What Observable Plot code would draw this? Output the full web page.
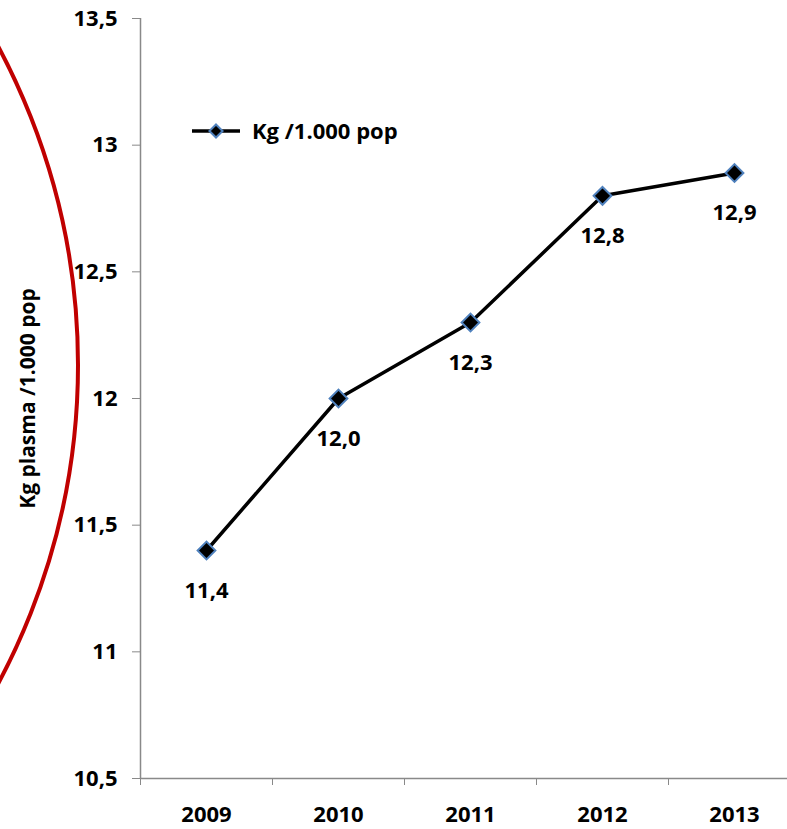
<!DOCTYPE html>
<html>
<head>
<meta charset="utf-8">
<script src="https://cdn.jsdelivr.net/npm/d3@7"></script>
<script src="https://cdn.jsdelivr.net/npm/@observablehq/plot@0.6"></script>
<style>
  html, body { margin: 0; padding: 0; background: white; }
  #wrap { position: relative; width: 787px; height: 829px; overflow: hidden; }
  #legend { position: absolute; left: 185px; top: 111px; overflow: visible; }
</style>
</head>
<body>
<div id="wrap"></div>
<script>
const years = [2009, 2010, 2011, 2012, 2013];
const values = [11.4, 12.0, 12.3, 12.8, 12.89];
const valueLabels = ["11,4", "12,0", "12,3", "12,8", "12,9"];
const yTicks = [10.5, 11, 11.5, 12, 12.5, 13, 13.5];
const yTickLabels = ["10,5", "11", "11,5", "12", "12,5", "13", "13,5"];
const seriesName = "Kg /1.000 pop";
const yTitle = "Kg plasma /1.000 pop";

const data = years.map((year, i) => ({year, value: values[i], label: valueLabels[i]}));
const bounds = years.map(y => y - 0.5).concat([years[years.length - 1] + 0.5]);

const FONT = "Open Sans";
const axisGray = "#898989";

const chart = Plot.plot({
  width: 787,
  height: 829,
  marginLeft: 140,
  marginRight: 0,
  marginTop: 18,
  marginBottom: 51,
  x: {type: "linear", domain: [2008.5, 2013.5], range: [140, 800]},
  y: {domain: [10.5, 13.5]},
  style: {fontFamily: FONT, fontWeight: "bold", color: "#000", background: "white"},
  marks: [
    Plot.ruleY([10.5], {stroke: axisGray, strokeWidth: 1.5}),
    Plot.ruleX([2008.5], {stroke: axisGray, strokeWidth: 1.5}),
    Plot.axisY({ticks: yTicks, tickSize: 8, tickPadding: 15, stroke: axisGray, fill: "#000",
      tickFormat: d => yTickLabels[yTicks.indexOf(d)], fontSize: 22, label: null}),
    Plot.axisX({ticks: bounds, tickSize: 7, stroke: axisGray, tickFormat: () => "", label: null}),
    Plot.axisX({ticks: years, tickSize: 0, tickPadding: 28, fill: "#000",
      tickFormat: d => String(d), fontSize: 22, label: null}),
    Plot.text([yTitle], {frameAnchor: "left", textAnchor: "middle", rotate: -90, dx: -112, fontSize: 21, fill: "#000"}),
    Plot.line(data, {x: "year", y: "value", stroke: "black", strokeWidth: 3.5}),
    Plot.dot(data, {x: "year", y: "value", symbol: "diamond2", r: 8, fill: "black", stroke: "#4f81bd", strokeWidth: 2}),
    Plot.text(data, {x: "year", y: "value", text: "label", dy: 40, fontSize: 22, fill: "#000"})
  ]
});

// decorative red circle (annotation in the original image)
d3.select(chart).append("circle")
  .attr("cx", -597).attr("cy", 365).attr("r", 675)
  .attr("fill", "none").attr("stroke", "#c00000").attr("stroke-width", 4);

document.getElementById("wrap").appendChild(chart);

// legend
const leg = d3.select("#wrap").append("svg").attr("id", "legend")
  .attr("width", 280).attr("height", 42);
leg.append("line").attr("x1", 7).attr("x2", 55).attr("y1", 20).attr("y2", 20)
  .attr("stroke", "black").attr("stroke-width", 3.5);
leg.append("path").attr("d", d3.symbol(d3.symbolDiamond2, 110)())
  .attr("transform", "translate(31,20)")
  .attr("fill", "black").attr("stroke", "#4f81bd").attr("stroke-width", 2);
leg.append("text").attr("x", 67).attr("y", 20).attr("dy", "0.35em")
  .attr("font-family", FONT).attr("font-weight", "bold").attr("font-size", 22)
  .text(seriesName);
</script>
</body>
</html>
